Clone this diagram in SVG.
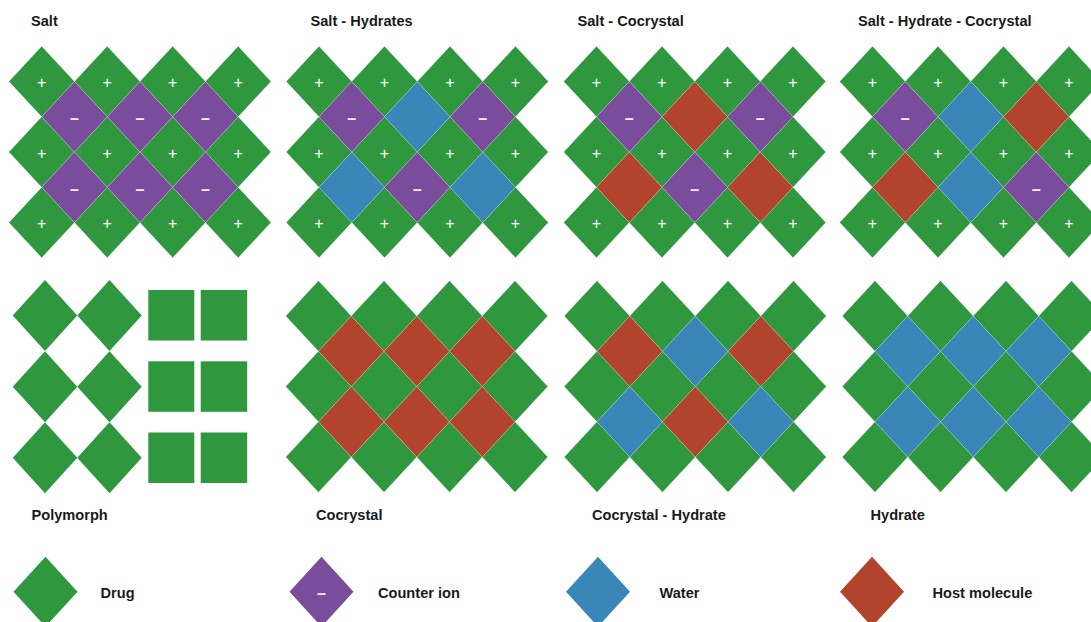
<svg xmlns="http://www.w3.org/2000/svg" xmlns:xlink="http://www.w3.org/1999/xlink" width="1091" height="622" viewBox="0 0 1091 622">
<style>
.t{font-family:"Liberation Sans",Arial,sans-serif;font-weight:bold;font-size:14.6px;fill:#1a1a1a}
.g{fill:#2f983f}
.p{fill:#7a4c9c}
.b{fill:#3a86b8}
.r{fill:#b2442e}
.tile{stroke:#ffffff;stroke-opacity:0.22;stroke-width:0.8}
.pl{font-family:"Liberation Sans",Arial,sans-serif;font-size:16px;fill:#ffffff;text-anchor:middle}
.mn{font-family:"Liberation Sans",Arial,sans-serif;font-weight:bold;font-size:16px;fill:#f4f0f8;text-anchor:middle}
</style>
<defs>
<path id="d" class="tile" d="M0,-35.25 L32.75,0 L0,35.25 L-32.75,0 Z"/>
<path id="dp" d="M0,-35.5 L32.25,0 L0,35.5 L-32.25,0 Z"/>
<path id="dl" d="M0,-35 L32,0 L0,35 L-32,0 Z"/>
<g id="greens">
<use href="#d" x="0" y="0"/><use href="#d" x="65.5" y="0"/><use href="#d" x="131" y="0"/><use href="#d" x="196.5" y="0"/>
<use href="#d" x="0" y="70.5"/><use href="#d" x="65.5" y="70.5"/><use href="#d" x="131" y="70.5"/><use href="#d" x="196.5" y="70.5"/>
<use href="#d" x="0" y="141"/><use href="#d" x="65.5" y="141"/><use href="#d" x="131" y="141"/><use href="#d" x="196.5" y="141"/>
</g>
<g id="pluses">
<text class="pl" x="0" y="6.5">+</text><text class="pl" x="65.5" y="6.5">+</text><text class="pl" x="131" y="6.5">+</text><text class="pl" x="196.5" y="6.5">+</text>
<text class="pl" x="0" y="77">+</text><text class="pl" x="65.5" y="77">+</text><text class="pl" x="131" y="77">+</text><text class="pl" x="196.5" y="77">+</text>
<text class="pl" x="0" y="147.5">+</text><text class="pl" x="65.5" y="147.5">+</text><text class="pl" x="131" y="147.5">+</text><text class="pl" x="196.5" y="147.5">+</text>
</g>
</defs>

<g id="salt">
<text class="t" x="31" y="26">Salt</text>
<g transform="translate(41.7,81.5)">
<use href="#greens" class="g"/>
<use href="#d" class="p" x="32.75" y="35.25"/><use href="#d" class="p" x="98.25" y="35.25"/><use href="#d" class="p" x="163.75" y="35.25"/>
<use href="#d" class="p" x="32.75" y="105.75"/><use href="#d" class="p" x="98.25" y="105.75"/><use href="#d" class="p" x="163.75" y="105.75"/>
<use href="#pluses"/>
<text class="mn" x="32.75" y="42.5">–</text><text class="mn" x="98.25" y="42.5">–</text><text class="mn" x="163.75" y="42.5">–</text>
<text class="mn" x="32.75" y="113">–</text><text class="mn" x="98.25" y="113">–</text><text class="mn" x="163.75" y="113">–</text>
</g>
</g>

<g id="salt-hydrates">
<text class="t" x="310.5" y="26">Salt - Hydrates</text>
<g transform="translate(319,81.5)">
<use href="#greens" class="g"/>
<use href="#d" class="p" x="32.75" y="35.25"/><use href="#d" class="b" x="98.25" y="35.25"/><use href="#d" class="p" x="163.75" y="35.25"/>
<use href="#d" class="b" x="32.75" y="105.75"/><use href="#d" class="p" x="98.25" y="105.75"/><use href="#d" class="b" x="163.75" y="105.75"/>
<use href="#pluses"/>
<text class="mn" x="32.75" y="42.5">–</text><text class="mn" x="163.75" y="42.5">–</text>
<text class="mn" x="98.25" y="113">–</text>
</g>
</g>

<g id="salt-cocrystal">
<text class="t" x="577.5" y="26">Salt - Cocrystal</text>
<g transform="translate(596.5,81.5)">
<use href="#greens" class="g"/>
<use href="#d" class="p" x="32.75" y="35.25"/><use href="#d" class="r" x="98.25" y="35.25"/><use href="#d" class="p" x="163.75" y="35.25"/>
<use href="#d" class="r" x="32.75" y="105.75"/><use href="#d" class="p" x="98.25" y="105.75"/><use href="#d" class="r" x="163.75" y="105.75"/>
<use href="#pluses"/>
<text class="mn" x="32.75" y="42.5">–</text><text class="mn" x="163.75" y="42.5">–</text>
<text class="mn" x="98.25" y="113">–</text>
</g>
</g>

<g id="salt-hydrate-cocrystal">
<text class="t" x="858" y="26">Salt - Hydrate - Cocrystal</text>
<g transform="translate(872.5,81.5)">
<use href="#greens" class="g"/>
<use href="#d" class="p" x="32.75" y="35.25"/><use href="#d" class="b" x="98.25" y="35.25"/><use href="#d" class="r" x="163.75" y="35.25"/>
<use href="#d" class="r" x="32.75" y="105.75"/><use href="#d" class="b" x="98.25" y="105.75"/><use href="#d" class="p" x="163.75" y="105.75"/>
<use href="#pluses"/>
<text class="mn" x="32.75" y="42.5">–</text>
<text class="mn" x="163.75" y="113">–</text>
</g>
</g>

<g id="polymorph">
<g class="g">
<use href="#dp" x="45" y="315.5"/><use href="#dp" x="109.5" y="315.5"/>
<use href="#dp" x="45" y="386.7"/><use href="#dp" x="109.5" y="386.7"/>
<use href="#dp" x="45" y="457.8"/><use href="#dp" x="109.5" y="457.8"/>
<rect x="148.3" y="290" width="46" height="50.5"/><rect x="200.7" y="290" width="46.5" height="50.5"/>
<rect x="148.3" y="361.3" width="46" height="50.5"/><rect x="200.7" y="361.3" width="46.5" height="50.5"/>
<rect x="148.3" y="432.5" width="46" height="50.5"/><rect x="200.7" y="432.5" width="46.5" height="50.5"/>
</g>
<text class="t" x="31.5" y="520">Polymorph</text>
</g>

<g id="cocrystal">
<g transform="translate(318.5,316)">
<use href="#greens" class="g"/>
<use href="#d" class="r" x="32.75" y="35.25"/><use href="#d" class="r" x="98.25" y="35.25"/><use href="#d" class="r" x="163.75" y="35.25"/>
<use href="#d" class="r" x="32.75" y="105.75"/><use href="#d" class="r" x="98.25" y="105.75"/><use href="#d" class="r" x="163.75" y="105.75"/>
</g>
<text class="t" x="316" y="520">Cocrystal</text>
</g>

<g id="cocrystal-hydrate">
<g transform="translate(597,316)">
<use href="#greens" class="g"/>
<use href="#d" class="r" x="32.75" y="35.25"/><use href="#d" class="b" x="98.25" y="35.25"/><use href="#d" class="r" x="163.75" y="35.25"/>
<use href="#d" class="b" x="32.75" y="105.75"/><use href="#d" class="r" x="98.25" y="105.75"/><use href="#d" class="b" x="163.75" y="105.75"/>
</g>
<text class="t" x="592" y="520">Cocrystal - Hydrate</text>
</g>

<g id="hydrate">
<g transform="translate(875,316)">
<use href="#greens" class="g"/>
<use href="#d" class="b" x="32.75" y="35.25"/><use href="#d" class="b" x="98.25" y="35.25"/><use href="#d" class="b" x="163.75" y="35.25"/>
<use href="#d" class="b" x="32.75" y="105.75"/><use href="#d" class="b" x="98.25" y="105.75"/><use href="#d" class="b" x="163.75" y="105.75"/>
</g>
<text class="t" x="870.5" y="520">Hydrate</text>
</g>

<g id="legend-drug">
<use href="#dl" class="g" x="45.5" y="591.7"/>
<text class="t" x="100.5" y="597.5">Drug</text>
</g>
<g id="legend-counter-ion">
<use href="#dl" class="p" x="321.5" y="591.7"/>
<text class="mn" x="321.5" y="598.5">–</text>
<text class="t" x="378" y="597.5">Counter ion</text>
</g>
<g id="legend-water">
<use href="#dl" class="b" x="598" y="591.7"/>
<text class="t" x="659.5" y="597.5">Water</text>
</g>
<g id="legend-host">
<use href="#dl" class="r" x="872" y="591.7"/>
<text class="t" x="932.5" y="597.5">Host molecule</text>
</g>

<g id="connectors"/>
</svg>
